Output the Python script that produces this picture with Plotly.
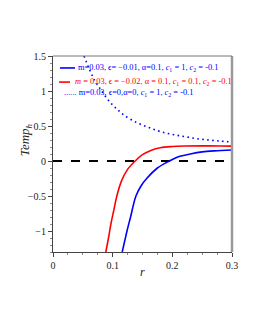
import plotly.graph_objects as go

# Data
r_blue = [0.116, 0.12, 0.124, 0.13, 0.139, 0.148, 0.157, 0.175, 0.195, 0.21, 0.23, 0.25, 0.27, 0.3]
t_blue = [-1.3, -1.15, -1.0, -0.8, -0.5, -0.35, -0.25, -0.1, 0.0, 0.06, 0.1, 0.13, 0.145, 0.157]

r_red = [0.0885, 0.093, 0.097, 0.102, 0.107, 0.115, 0.125, 0.1377, 0.15, 0.165, 0.18, 0.2, 0.22, 0.25, 0.28, 0.3]
t_red = [-1.3, -1.1, -0.9, -0.7, -0.5, -0.28, -0.12, 0.0, 0.09, 0.155, 0.19, 0.207, 0.214, 0.216, 0.214, 0.212]

r_dot = [0.052, 0.06, 0.07, 0.08, 0.09, 0.1, 0.11, 0.12, 0.14, 0.16, 0.18, 0.2, 0.22, 0.24, 0.26, 0.28, 0.3]
t_dot = [1.5, 1.33, 1.15, 1.02, 0.9, 0.8, 0.72, 0.65, 0.55, 0.48, 0.42, 0.38, 0.35, 0.32, 0.3, 0.285, 0.27]

r_zero = [0.0, 0.3]
t_zero = [0.0, 0.0]

legend_texts = [
    'm=0.03, ϵ= −0.01, α=0.1, <i>c</i><sub>1</sub> = 1, <i>c</i><sub>2</sub> = -0.1',
    '<i>m</i> = 0.03, ϵ = −0.02, α = 0.1, <i>c</i><sub>1</sub> = 0.1, <i>c</i><sub>2</sub> = -0.1',
    '...... m=0.03, ϵ=0,α=0, <i>c</i><sub>1</sub> = 1, <i>c</i><sub>2</sub> = -0.1',
]
legend_colors = ["blue", "red", "blue"]

font = "Liberation Serif, Times New Roman, serif"

fig = go.Figure()
fig.add_trace(go.Scatter(x=r_zero, y=t_zero, mode="lines", showlegend=False,
                         line=dict(color="black", width=2, dash="dash"), hoverinfo="skip"))
fig.add_trace(go.Scatter(x=r_blue, y=t_blue, mode="lines", showlegend=False,
                         line=dict(color="blue", width=1.6, shape="spline")))
fig.add_trace(go.Scatter(x=r_red, y=t_red, mode="lines", showlegend=False,
                         line=dict(color="red", width=1.6, shape="spline")))
fig.add_trace(go.Scatter(x=r_dot, y=t_dot, mode="lines", showlegend=False,
                         line=dict(color="blue", width=1.6, dash="1.6px,3.4px", shape="spline")))

# legend block (paper coordinates)
leg_y = [0.939, 0.867, 0.810]
leg_tx = [0.128, 0.112, 0.050]
annotations = []
for txt, col, yy, xx in zip(legend_texts, legend_colors, leg_y, leg_tx):
    annotations.append(dict(text=txt, xref="paper", yref="paper", x=xx, y=yy,
                            xanchor="left", yanchor="middle", showarrow=False,
                            font=dict(family=font, size=8.4, color=col)))
annotations.append(dict(text="<i>Temp</i><sub><i>h</i></sub>", xref="paper", yref="paper",
                        x=-0.156, y=0.571, xanchor="center", yanchor="middle",
                        showarrow=False, textangle=-90,
                        font=dict(family=font, size=13, color="#222")))
annotations.append(dict(text="<i>r</i>", xref="paper", yref="paper",
                        x=0.5, y=-0.10, xanchor="center", yanchor="middle",
                        showarrow=False, font=dict(family=font, size=12, color="#222")))

shapes = [
    dict(type="line", xref="paper", yref="paper", x0=1, x1=1, y0=0, y1=1,
         line=dict(color="#999", width=2.5)),
    dict(type="line", xref="paper", yref="paper", x0=0, x1=1, y0=1, y1=1,
         line=dict(color="#777", width=1)),
    # legend samples
    dict(type="line", xref="paper", yref="paper", x0=0.039, x1=0.123, y0=0.939, y1=0.939,
         line=dict(color="blue", width=1.6)),
    dict(type="line", xref="paper", yref="paper", x0=0.034, x1=0.095, y0=0.867, y1=0.867,
         line=dict(color="red", width=1.6)),
]

fig.update_layout(
    width=247, height=322,
    margin=dict(l=45, r=23, t=48, b=78),
    paper_bgcolor="white", plot_bgcolor="white",
    font=dict(family=font, size=10, color="#222"),
    showlegend=False,
    xaxis=dict(range=[0, 0.3], tickvals=[0, 0.1, 0.2, 0.3], ticktext=["0", "0.1", "0.2", "0.3"],
               showgrid=False, zeroline=False, showline=True, linecolor="#444", linewidth=1,
               ticks="outside", ticklen=4, tickcolor="#444",
               minor=dict(ticks="outside", ticklen=2, dtick=0.025, tickcolor="#888")),
    yaxis=dict(range=[-1.3, 1.5], tickvals=[-1, -0.5, 0, 0.5, 1, 1.5],
               ticktext=["−1", "−0.5", "0", "0.5", "1", "1.5"],
               showgrid=False, zeroline=False, showline=True, linecolor="#444", linewidth=1,
               ticks="outside", ticklen=4, tickcolor="#444",
               minor=dict(ticks="outside", ticklen=2, dtick=0.1, tickcolor="#888")),
    shapes=shapes,
    annotations=annotations,
)

fig.write_html("out.html")
